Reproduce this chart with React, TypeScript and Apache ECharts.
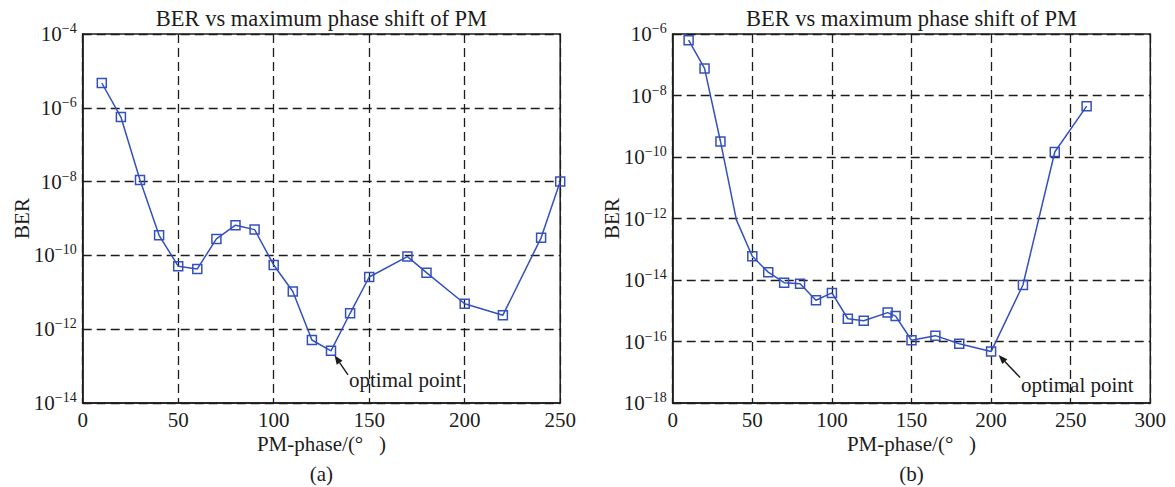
import React, { useEffect, useRef } from 'react';
import * as echarts from 'echarts';

// ---------- text ----------
const titleText = 'BER vs maximum phase shift of PM';
const xAxisName = 'PM-phase/(°   )';
const yAxisName = 'BER';
const captions = ['(a)', '(b)'];
const annotationText = 'optimal point';

// ---------- panel (a) ----------
const phaseA = [10, 20, 30, 40, 50, 60, 70, 80, 90, 100, 110, 120, 130, 140, 150, 170, 180, 200, 220, 240, 250];
const berA = [4.7e-6, 5.6e-7, 1.1e-8, 3.5e-10, 5.1e-11, 4.3e-11, 2.8e-10, 6.6e-10, 5.0e-10, 5.5e-11, 1.05e-11, 5.1e-13, 2.6e-13, 2.7e-12, 2.6e-11, 9.3e-11, 3.4e-11, 4.9e-12, 2.4e-12, 3.0e-10, 1.0e-8];
const optimalA = 130;
const xMaxA = 250;
const yExpA = [-14, -4]; // 10^-14 .. 10^-4

// ---------- panel (b) ----------
const phaseB = [10, 20, 30, 40, 50, 60, 70, 80, 90, 100, 110, 120, 135, 140, 150, 165, 180, 200, 220, 240, 260];
const berB = [6.3e-7, 7.6e-8, 3.2e-10, 9.0e-13, 5.9e-14, 1.8e-14, 8.2e-15, 7.5e-15, 2.2e-15, 3.8e-15, 5.5e-16, 4.7e-16, 8.7e-16, 6.7e-16, 1.1e-16, 1.55e-16, 8.5e-17, 4.7e-17, 6.9e-15, 1.45e-10, 4.5e-9];
const unmarkedB = [40];
const optimalB = 200;
const xMaxB = 300;
const yExpB = [-18, -6];

const xInterval = 50;
const yInterval = 2;

const FONT = "'Liberation Serif', 'Times New Roman', serif";
const BLUE = '#3450bf';
const INK = '#1c1c1c';

const grids = [
  { left: 82.7, top: 34, width: 477.5, height: 369 },
  { left: 672.7, top: 34, width: 477.6, height: 369 },
];

function makeXAxis(gridIndex: number, max: number) {
  return {
    gridIndex,
    type: 'value',
    min: 0,
    max,
    interval: xInterval,
    axisLine: { show: true, lineStyle: { color: INK, width: 1.5 } },
    axisTick: { show: false },
    axisLabel: { color: INK, fontSize: 21, fontFamily: FONT, margin: 6, showMinLabel: true, showMaxLabel: true },
    splitLine: { show: true, lineStyle: { color: INK, type: [9, 5], width: 1.3 } },
  };
}

function makeYAxis(gridIndex: number, ext: number[]) {
  return {
    gridIndex,
    type: 'value',
    min: ext[0],
    max: ext[1],
    interval: yInterval,
    axisLine: { show: true, lineStyle: { color: INK, width: 1.5 } },
    axisTick: { show: false },
    axisLabel: {
      color: INK,
      margin: 6,
      showMinLabel: true,
      showMaxLabel: true,
      formatter: (v: number) => `{b|10}{s|−${Math.round(-v)}}`,
      rich: {
        b: { fontSize: 21, lineHeight: 25, fontFamily: FONT, color: INK },
        s: { fontSize: 14, lineHeight: 14, verticalAlign: 'top', fontFamily: FONT, color: INK },
      },
    },
    splitLine: { show: true, lineStyle: { color: INK, type: [9, 5], width: 1.3 } },
  };
}

function makeSeries(idx: number, xs: number[], ys: number[], unmarked: number[]) {
  return {
    type: 'line',
    xAxisIndex: idx,
    yAxisIndex: idx,
    data: xs.map((x, i) => {
      const value = [x, Math.log10(ys[i])];
      return unmarked.includes(x) ? { value, symbol: 'none' } : { value };
    }),
    symbol: 'rect',
    symbolSize: 9,
    lineStyle: { color: BLUE, width: 1.5 },
    itemStyle: { color: 'rgba(0,0,0,0)', borderColor: BLUE, borderWidth: 1.5 },
    z: 5,
  };
}

function arrow(tail: number[], tip: number[]) {
  const dx = tip[0] - tail[0];
  const dy = tip[1] - tail[1];
  const len = Math.sqrt(dx * dx + dy * dy);
  const ux = dx / len;
  const uy = dy / len;
  const hl = 9;
  const hw = 3.5;
  const bx = tip[0] - ux * hl;
  const by = tip[1] - uy * hl;
  return [
    { type: 'line', shape: { x1: tail[0], y1: tail[1], x2: bx, y2: by }, style: { stroke: INK, lineWidth: 1.4 }, z: 10 },
    {
      type: 'polygon',
      shape: { points: [[tip[0], tip[1]], [bx - uy * hw, by + ux * hw], [bx + uy * hw, by - ux * hw]] },
      style: { fill: INK },
      z: 10,
    },
  ];
}

export default function App() {
  const ref = useRef<HTMLDivElement>(null);
  useEffect(() => {
    const chart = echarts.init(ref.current!, null, { renderer: 'svg' });
    chart.setOption({
      animation: false,
      backgroundColor: '#ffffff',
      grid: grids.map((g) => ({ ...g, show: true, borderColor: INK, borderWidth: 1.5, backgroundColor: 'transparent' })),
      xAxis: [makeXAxis(0, xMaxA), makeXAxis(1, xMaxB)],
      yAxis: [makeYAxis(0, yExpA), makeYAxis(1, yExpB)],
      series: [makeSeries(0, phaseA, berA, []), makeSeries(1, phaseB, berB, unmarkedB)],
    });

    const graphics: any[] = [];
    grids.forEach((g, i) => {
      const cx = g.left + g.width / 2;
      const cy = g.top + g.height / 2;
      graphics.push(
        { type: 'text', x: cx, y: 18, style: { text: titleText, font: `22.5px ${FONT}`, fill: INK, align: 'center', verticalAlign: 'middle' } },
        { type: 'text', x: cx, y: 444, style: { text: xAxisName, font: `21px ${FONT}`, fill: INK, align: 'center', verticalAlign: 'middle' } },
        { type: 'text', x: cx, y: 474, style: { text: captions[i], font: `21px ${FONT}`, fill: INK, align: 'center', verticalAlign: 'middle' } },
        { type: 'text', x: g.left - 61, y: cy, rotation: Math.PI / 2, style: { text: yAxisName, font: `21px ${FONT}`, fill: INK, align: 'center', verticalAlign: 'middle' } },
      );
    });

    const pA = chart.convertToPixel({ gridIndex: 0 } as any, [optimalA, Math.log10(berA[phaseA.indexOf(optimalA)])]) as number[];
    const pB = chart.convertToPixel({ gridIndex: 1 } as any, [optimalB, Math.log10(berB[phaseB.indexOf(optimalB)])]) as number[];

    graphics.push(...arrow([pA[0] + 17, pA[1] + 24], [pA[0] + 3.5, pA[1] + 4.5]));
    graphics.push({ type: 'text', x: pA[0] + 18, y: pA[1] + 29, style: { text: annotationText, font: `21px ${FONT}`, fill: INK, align: 'left', verticalAlign: 'middle' }, z: 10 });
    graphics.push(...arrow([pB[0] + 29, pB[1] + 26], [pB[0] + 7.5, pB[1] + 3.5]));
    graphics.push({ type: 'text', x: pB[0] + 30, y: pB[1] + 33, style: { text: annotationText, font: `21px ${FONT}`, fill: INK, align: 'left', verticalAlign: 'middle' }, z: 10 });

    chart.setOption({ graphic: graphics });
    return () => chart.dispose();
  }, []);
  return <div ref={ref} style={{ position: 'absolute', left: 0, top: 0, width: 1175, height: 487, background: '#fff' }} />;
}
